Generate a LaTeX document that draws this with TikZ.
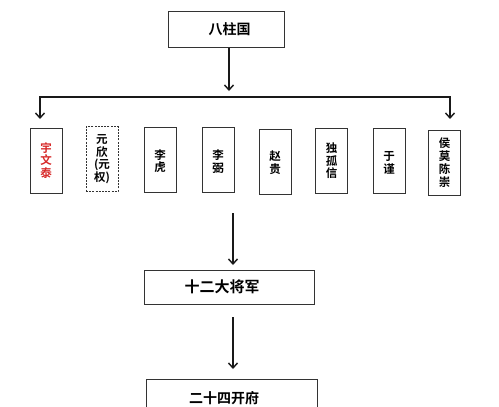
\documentclass[tikz,border=0pt]{standalone}
\usepackage{fontspec}
\newfontfamily\cjk{Noto Sans CJK SC}[BoldFont={Noto Sans CJK SC Bold}]
\usetikzlibrary{arrows.meta}
\definecolor{redtxt}{RGB}{215,40,40}
\tikzset{
  bigbox/.style={draw=black!80, line width=0.9pt, minimum height=36pt, inner sep=0pt, font=\cjk\bfseries\fontsize{14}{14}\selectfont},
  tallbox/.style={draw=black!80, line width=0.9pt, minimum width=32pt, minimum height=65pt, inner sep=0pt, align=center, font=\cjk\bfseries\fontsize{11.5}{12.5}\selectfont},
  conn/.style={line width=1.4pt, draw=black!90},
  arr/.style={conn, -{Straight Barb[length=5pt,width=9pt,line width=1.4pt]}}
}
\begin{document}
\begin{tikzpicture}[x=1pt,y=-1pt]
\useasboundingbox (0,0) rectangle (499,407);
\fill[white] (0,0) rectangle (499,407);
% top
\node[bigbox, minimum width=116pt] (top) at (226,29.5) {\hspace*{7pt}八柱国};
\coordinate (bustip) at (229,91);
\coordinate (busL) at (40,97);
\coordinate (busR) at (450,97);
\coordinate (tipL) at (40,119);
\coordinate (tipR) at (450,119);
\draw[arr] (top.south -| bustip) -- (bustip);
\draw[conn, line cap=rect] (busL) -- (busR);
\draw[arr] (busL) -- (tipL);
\draw[arr] (busR) -- (tipR);
% row of eight
\node[tallbox, text=redtxt] (b1) at (46,160.5) {宇\\文\\泰};
\node[tallbox, dashed, dash pattern=on 2pt off 1.2pt] (b2) at (102,159) {元\\欣\\(元\\权)};
\node[tallbox] (b3) at (160,160) {\\李\\虎};
\node[tallbox] (b4) at (218,160) {\\李\\弼};
\node[tallbox] (b5) at (275,161.5) {\\赵\\贵};
\node[tallbox] (b6) at (331.5,161) {独\\孤\\信};
\node[tallbox] (b7) at (389,161) {\\于\\谨};
\node[tallbox, font=\cjk\bfseries\fontsize{11.5}{13}\selectfont] (b8) at (444.5,162.5) {侯\\莫\\陈\\崇};
% lower chain
\coordinate (mid1) at (233,213);
\coordinate (tip1) at (233,265);
\node[bigbox, minimum width=170pt, minimum height=34pt, font=\cjk\bfseries\fontsize{15}{15}\selectfont] (twelve) at (229,287) {十二大将军\hspace*{14pt}};
\coordinate (tip2) at (233,369);
\draw[arr] (mid1) -- (tip1);
\draw[arr] (twelve.south -| tip2) ++(0,13) -- (tip2);
\coordinate (fA) at (146,412);
\coordinate (fB) at (317,412);
\node[font=\cjk\bfseries\fontsize{14}{14}\selectfont] (twfour) at (224,398) {二十四开府};
\draw[draw=black!80, line width=0.9pt] (fA) -- (146,379) -- (317,379) -- (fB);
\end{tikzpicture}
\end{document}
